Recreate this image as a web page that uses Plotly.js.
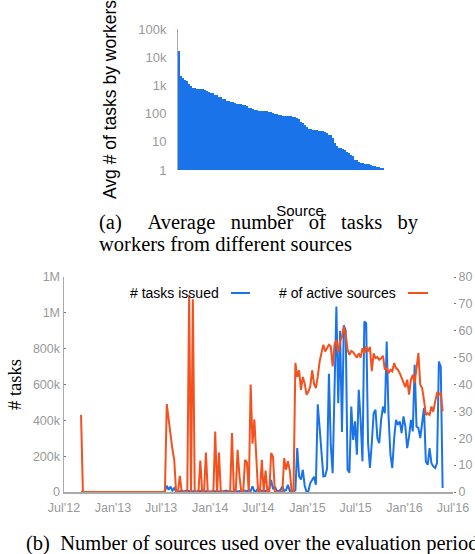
<!DOCTYPE html>
<html>
<head>
<meta charset="utf-8">
<script src="https://cdn.plot.ly/plotly-3.0.1.min.js"></script>
<style>
  html, body { margin: 0; padding: 0; background: #fff; }
  #chart { width: 475px; height: 554px; }
</style>
</head>
<body>
<div id="chart"></div>
<script>
// ---------- (a) average number of tasks per worker, sources sorted descending ----------
const avgTasksBySource = [
  17000, 2200, 1800, 1600, 1400, 1100, 920, 810, 800, 745,
  745, 740, 720, 665, 640, 565, 560, 540, 465, 460,
  400, 385, 330, 320, 285, 270, 250, 248, 240, 223,
  222, 220, 200, 198, 180, 157, 155, 150, 137, 135,
  125, 123, 122, 121, 120, 112, 110, 108, 100, 93,
  92, 90, 84, 83, 82, 81, 80, 75, 74, 69,
  62, 52, 48, 40, 33, 29, 28, 26, 26, 25.5,
  24.5, 24.5, 24, 23, 21, 18, 17, 13.4, 9, 7.1,
  6, 5.9, 5.6, 5.1, 4.2, 3.9, 3.4, 3.2, 2.3, 2.2,
  1.9, 1.8, 1.8, 1.7, 1.6, 1.6, 1.55, 1.42, 1.4, 1.3,
  1.25, 1.22, 1.2, 1, 1, 1, 1, 1, 1, 1,
  1, 1, 1, 1, 1, 1, 1, 1, 1, 1,
  1, 1
];
const avgTickVals = [1, 10, 100, 1000, 10000, 100000];
const avgTickText = ["1", "10", "100", "1k", "10k", "100k"];

// ---------- (b) weekly series, first week starting 2012-09-03 ----------
const firstWeek = "2012-09-03";
// # tasks issued (thousands), one value per week
const tasksIssuedK = [
  0,0,0,0,0,0,0,0,0,0, 0,0,0,0,0,0,0,0,0,0,
  0,0,0,0,0,0,0,0,0,0, 0,0,0,0,0,0,0,0,0,0,
  0,0,0,0,0,
  5,35,12,30,8,22,
  3,5,2,8,3,5,8,4,6,3, 5,2,8,4,10,5,3,6,2,4,
  7,3,5,2,6,3,4,8,3,5, 2,4,6,3,5,2,4,8,3,10, 5,
  31,3,6,22,4,8,3,5,10,20, 68,15,31,8,4,12,31,6,10,40, 5,8,3,10,
  245,87,70,124,35,0,5,50,70,85, 40,490,360,190,87,90,130,660,260,105,
  560,1035,496,900,335,930,900,124,107,477, 291,394,208,570,403,171,951,942,273,134,
  273,440,459,300,273,403,477,440,840,422, 208,134,300,403,375,394,329,422,366,245,
  310,403,338,710,366,357,301,400,468,171, 152,245,161,143,134,161,728,700,22
];
// # of active sources, one value per week
const activeSources = [
  28.7,
  0,0,0,0,0,0,0,0,0,0, 0,0,0,0,0,0,0,0,0,0,
  0,0,0,0,0,0,0,0,0,0, 0,0,0,0,0,0,0,0,0,0,
  0,0,0,0,0,
  32.7,27,21,16,12,0,0,6,0,0, 0,0,73.4,0,71.7,0,0,0,11.7,0,
  0,14.7,0,0,0,0,22.5,0,14.7,0, 0,0,0,0,0,21.9,0,0,15.7,6,
  0,0,12,11,0,40,18,27,13,0, 0,12,0,8,0,0,14.5,13,0,0,
  0,0,0,12.6,8.3,11.5,8,0,0,48, 42.8,45.3,38,42.8,40.3,36.2,37.4,39.3,45.3,40.3,
  38.7,42.8,48.5,51.7,54.8,52.3,53.9,54.8,54.2,46.7, 54.8,56.6,52,56,57.8,61.6,58.5,53,51,52.5,
  52,51,50,51.6,50,53.5,51.6,54.2,52.3,54, 45,51.6,49.8,50.2,49.2,49.8,50.7,45.5,46.1,44.2,
  45.5,44.9,48,46.1,45.5,44.2,42.4,40.5,39,41.8, 36.2,41.8,43.6,40.5,46.7,51.7,40,38.7,34.3,28.7,
  29.3,28.7,31.8,29.9,33.7,36.8,36.2,37,30
];
const taskTickVals = [0, 200, 400, 600, 800, 1000, 1200];
const taskTickText = ["0", "200k", "400k", "600k", "800k", "1M", "1M"];

function weekDates(start, n) {
  const d0 = new Date(start + "T00:00:00Z");
  const out = [];
  for (let i = 0; i < n; i++) {
    const d = new Date(d0.getTime() + i * 7 * 86400000);
    out.push(d.toISOString().slice(0, 10));
  }
  return out;
}

const BLUE = "#1a73e8";
const ORANGE = "#f4511e";
const GREY = "#999999";
const SANS = "Liberation Sans, Arial, sans-serif";
const SERIF = "Liberation Serif, Times New Roman, serif";
const W = 475, H = 554;
const px = x => x / W;
const py = y => 1 - y / H;
const CAP = 20.5;

const traces = [
  {
    type: "bar",
    y: avgTasksBySource,
    xaxis: "x", yaxis: "y",
    marker: { color: BLUE, line: { width: 0 } },
    hoverinfo: "y",
    showlegend: false
  },
  {
    type: "scatter", mode: "lines",
    name: "# tasks issued",
    x: weekDates(firstWeek, tasksIssuedK.length),
    y: tasksIssuedK,
    xaxis: "x2", yaxis: "y2",
    line: { color: BLUE, width: 2 },
    showlegend: false
  },
  {
    type: "scatter", mode: "lines",
    name: "# of active sources",
    x: weekDates(firstWeek, activeSources.length),
    y: activeSources,
    xaxis: "x2", yaxis: "y3",
    line: { color: ORANGE, width: 2 },
    showlegend: false
  }
];

const layout = {
  width: W, height: H,
  margin: { l: 0, r: 0, t: 0, b: 0 },
  paper_bgcolor: "#fff", plot_bgcolor: "#fff",
  showlegend: false,
  bargap: 0,
  font: { family: SANS, color: "#000" },
  xaxis: {
    domain: [px(178), px(422)],
    anchor: "y",
    range: [-0.5, avgTasksBySource.length - 0.5],
    showticklabels: false, ticks: "", showgrid: false, zeroline: false,
    showline: false,
    title: { text: "Source", font: { family: SANS, size: 15, color: "#000" }, standoff: 35 }
  },
  yaxis: {
    domain: [py(170), py(29)],
    anchor: "x",
    type: "log",
    range: [0, 5],
    tickvals: avgTickVals, ticktext: avgTickText,
    tickfont: { family: SANS, size: 13, color: GREY },
    ticks: "", ticklabelstandoff: 8,
    showgrid: false, zeroline: false,
    showline: true, linecolor: "#aaaaaa", linewidth: 1,
    title: { text: "Avg # of tasks by workers", font: { family: SANS, size: 17.5, color: "#000" }, standoff: 17 }
  },
  xaxis2: {
    domain: [px(64), px(453)],
    anchor: "y2",
    type: "date",
    range: ["2012-07-01", "2016-07-01"],
    tick0: "2012-07-01", dtick: "M6",
    tickformat: "%b'%y",
    tickfont: { family: SANS, size: 12.5, color: GREY },
    ticks: "", ticklabelstandoff: 3, showgrid: false, zeroline: false,
    showline: true, linecolor: "#aaaaaa", linewidth: 1.5
  },
  yaxis2: {
    domain: [py(492), py(277)],
    anchor: "x2",
    range: [0, 1200],
    tickvals: taskTickVals, ticktext: taskTickText,
    tickfont: { family: SANS, size: 12.5, color: GREY },
    ticks: "inside", ticklen: 2, tickcolor: "#777",
    showgrid: false, zeroline: false,
    showline: true, linecolor: "#aaaaaa", linewidth: 1.5,
    title: { text: "# tasks", font: { family: SERIF, size: 18.5, color: "#000" }, standoff: 6 }
  },
  yaxis3: {
    overlaying: "y2",
    anchor: "x2",
    side: "right",
    range: [0, 80],
    dtick: 10,
    tickfont: { family: SANS, size: 12.5, color: GREY },
    ticks: "outside", ticklen: 2, tickcolor: "#777",
    showgrid: false, zeroline: false, showline: false
  },
  shapes: [
    { type: "line", xref: "paper", yref: "paper", x0: px(231), x1: px(250), y0: py(293), y1: py(293), line: { color: BLUE, width: 2 } },
    { type: "line", xref: "paper", yref: "paper", x0: px(408), x1: px(428), y0: py(293), y1: py(293), line: { color: ORANGE, width: 2 } }
  ],
  annotations: [
    { xref: "paper", yref: "paper", x: px(128), y: py(293), xanchor: "left", yanchor: "middle", showarrow: false,
      text: "# tasks issued", font: { family: SANS, size: 14, color: "#000" } },
    { xref: "paper", yref: "paper", x: px(277), y: py(293), xanchor: "left", yanchor: "middle", showarrow: false,
      text: "# of active sources", font: { family: SANS, size: 14, color: "#000" } },
    { xref: "paper", yref: "paper", x: px(97), y: py(223), xanchor: "left", yanchor: "middle", showarrow: false,
      text: "(a)&nbsp;&nbsp;&nbsp;&nbsp;&nbsp;Average&nbsp;&nbsp;&nbsp;number&nbsp;&nbsp;&nbsp;of&nbsp;&nbsp;&nbsp;tasks&nbsp;&nbsp;&nbsp;by",
      font: { family: SERIF, size: CAP, color: "#000" } },
    { xref: "paper", yref: "paper", x: px(97), y: py(244), xanchor: "left", yanchor: "middle", showarrow: false,
      text: "workers from different sources",
      font: { family: SERIF, size: CAP, color: "#000" } },
    { xref: "paper", yref: "paper", x: px(24), y: py(543), xanchor: "left", yanchor: "middle", showarrow: false,
      text: "(b)&nbsp;&nbsp;Number of sources used over the evaluation period",
      font: { family: SERIF, size: CAP, color: "#000" } }
  ]
};

Plotly.newPlot("chart", traces, layout, { displayModeBar: false, staticPlot: true });
</script>
</body>
</html>
